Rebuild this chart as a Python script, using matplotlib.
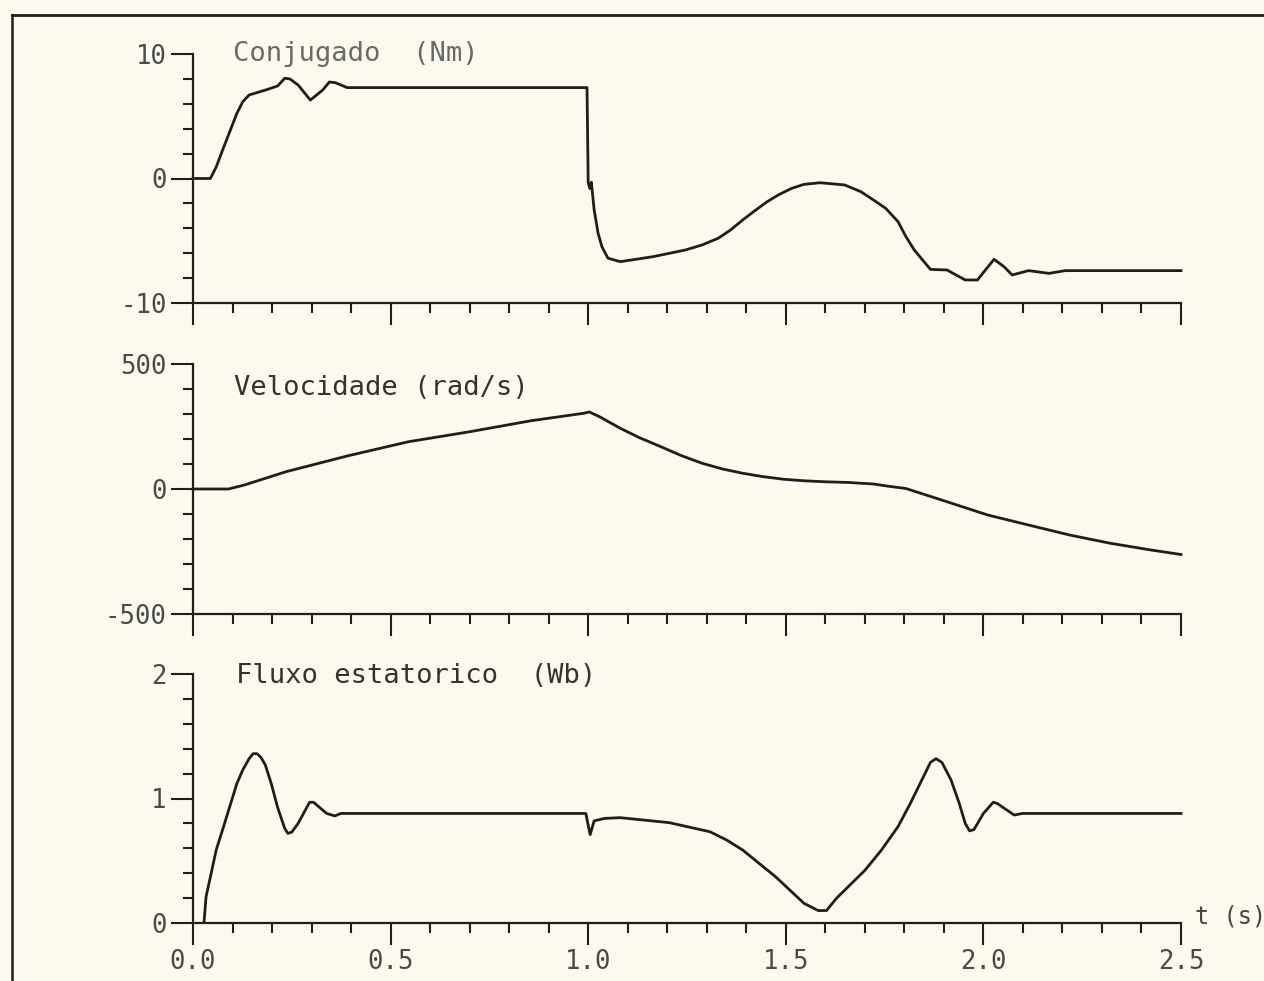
"""Partida e reversao do motor: conjugado, velocidade e fluxo estatorico
versus tempo, tres graficos empilhados no estilo de saida de plotter."""

import matplotlib

matplotlib.use("Agg")
import matplotlib.pyplot as plt  # noqa: E402
from matplotlib.lines import Line2D  # noqa: E402
from matplotlib.ticker import FormatStrFormatter, MultipleLocator  # noqa: E402

# conjugado (Nm)
t_torque = [0.0, 0.044, 0.059, 0.075, 0.111, 0.126, 0.142, 0.183, 0.214, 0.232,
            0.245, 0.266, 0.297, 0.328, 0.345, 0.36, 0.39, 0.997, 1.0, 1.004,
            1.008, 1.015, 1.025, 1.035, 1.05, 1.081, 1.164, 1.246, 1.288, 1.329,
            1.36, 1.391, 1.422, 1.453, 1.484, 1.515, 1.546, 1.587, 1.649, 1.69,
            1.722, 1.753, 1.784, 1.804, 1.825, 1.866, 1.908, 1.954, 1.985, 2.005,
            2.027, 2.052, 2.073, 2.114, 2.166, 2.207, 2.5]
torque = [0.0, 0.0, 0.95, 2.29, 5.23, 6.17, 6.71, 7.1, 7.43, 8.05,
          8.0, 7.51, 6.3, 7.1, 7.75, 7.7, 7.3, 7.3, -0.3, -0.8,
          -0.3, -2.5, -4.4, -5.5, -6.4, -6.68, -6.28, -5.74, -5.34, -4.8,
          -4.14, -3.33, -2.58, -1.86, -1.27, -0.79, -0.47, -0.34, -0.52, -1.06,
          -1.73, -2.4, -3.47, -4.67, -5.74, -7.3, -7.35, -8.15, -8.15, -7.35,
          -6.49, -7.08, -7.75, -7.4, -7.62, -7.4, -7.4]

# velocidade (rad/s)
t_speed = [0.0, 0.09, 0.13, 0.235, 0.39, 0.545, 0.70, 0.855, 0.989, 1.003,
           1.03, 1.081, 1.13, 1.184, 1.235, 1.288, 1.34, 1.391, 1.44, 1.494,
           1.545, 1.598, 1.66, 1.722, 1.76, 1.804, 1.908, 2.011, 2.114, 2.218,
           2.321, 2.424, 2.5]
speed = [0, 0, 16, 69, 132, 189, 229, 273, 303, 308,
         288, 243, 205, 169, 134, 103, 80, 63, 50, 39,
         33, 29, 26, 20, 11, 2, -51, -104, -144, -184,
         -217, -244, -262]

# fluxo estatorico (Wb)
t_flux = [0.028, 0.033, 0.044, 0.059, 0.075, 0.111, 0.126, 0.142, 0.152, 0.162,
          0.172, 0.183, 0.198, 0.214, 0.232, 0.24, 0.25, 0.266, 0.295, 0.305,
          0.338, 0.359, 0.374, 0.994, 1.005, 1.015, 1.041, 1.081, 1.205, 1.308,
          1.35, 1.391, 1.432, 1.474, 1.515, 1.546, 1.582, 1.603, 1.628, 1.701,
          1.742, 1.784, 1.815, 1.846, 1.866, 1.88, 1.895, 1.918, 1.939, 1.954,
          1.965, 1.976, 2.0, 2.025, 2.035, 2.078, 2.099, 2.5]
flux = [0.01, 0.21, 0.37, 0.59, 0.75, 1.12, 1.23, 1.32, 1.36, 1.36,
        1.33, 1.27, 1.12, 0.93, 0.76, 0.72, 0.73, 0.80, 0.97, 0.97,
        0.88, 0.86, 0.88, 0.88, 0.71, 0.82, 0.84, 0.846, 0.806, 0.733,
        0.667, 0.586, 0.48, 0.372, 0.25, 0.158, 0.10, 0.10, 0.198, 0.426,
        0.586, 0.774, 0.96, 1.16, 1.29, 1.32, 1.29, 1.15, 0.96, 0.80,
        0.74, 0.75, 0.88, 0.97, 0.96, 0.867, 0.88, 0.88]

PAPER = "#fcfaee"
INK = "#1e1e1e"
MONO = ["DejaVu Sans Mono"]

W, H = 1264, 981
LEFT, RIGHT = 193, 1181            # pixel x of t=0 and t=2.5
PANELS = [(54, 303), (364, 614), (674, 923)]  # pixel y of top/bottom limits


def style_axis(ax, ylim, ymajor, yminor, xlabels):
    ax.set_xlim(0, 2.5)
    ax.set_ylim(*ylim)
    ax.patch.set_visible(False)
    for side in ("top", "right"):
        ax.spines[side].set_visible(False)
    for side in ("left", "bottom"):
        ax.spines[side].set_linewidth(1.6)
        ax.spines[side].set_color(INK)
    ax.xaxis.set_major_locator(MultipleLocator(0.5))
    ax.xaxis.set_minor_locator(MultipleLocator(0.1))
    ax.yaxis.set_major_locator(MultipleLocator(ymajor))
    ax.yaxis.set_minor_locator(MultipleLocator(yminor))
    ax.tick_params(which="major", length=16, width=1.5, color=INK, pad=3,
                   labelsize=18.5, labelcolor="#4a4a4a")
    ax.tick_params(which="minor", length=7.5, width=1.5, color=INK)
    ax.tick_params(axis="x", labelbottom=xlabels)
    ax.xaxis.set_major_formatter(FormatStrFormatter("%.1f"))
    for lab in ax.get_xticklabels() + ax.get_yticklabels():
        lab.set_family(MONO)


def main() -> None:
    plt.rcParams["axes.unicode_minus"] = False
    fig = plt.figure(figsize=(W / 100, H / 100), dpi=100, facecolor=PAPER)

    axes = []
    for top, bottom in PANELS:
        rect = [LEFT / W, 1 - bottom / H, (RIGHT - LEFT) / W, (bottom - top) / H]
        axes.append(fig.add_axes(rect))
    ax_t, ax_w, ax_f = axes

    ax_t.plot(t_torque, torque, color=INK, lw=2.0, clip_on=False)
    style_axis(ax_t, (-10, 10), 10, 2, False)
    ax_t.text(0.10, 10, "Conjugado  (Nm)", family=MONO, fontsize=19.5,
              color="#6a6a6a", va="center")

    ax_w.plot(t_speed, speed, color=INK, lw=2.0, clip_on=False)
    style_axis(ax_w, (-500, 500), 500, 100, False)
    ax_w.text(0.105, 405, "Velocidade (rad/s)", family=MONO, fontsize=19.5,
              color="#333333", va="center")

    ax_f.plot(t_flux, flux, color=INK, lw=2.0, clip_on=False)
    style_axis(ax_f, (0, 2), 1, 0.2, True)
    ax_f.text(0.11, 1.98, "Fluxo estatorico  (Wb)", family=MONO, fontsize=19.5,
              color="#333333", va="center")
    ax_f.text(2.535, 0.05, "t (s)", family=MONO, fontsize=17,
              color="#444444", va="center")

    # moldura do papel (so topo e esquerda aparecem no scan)
    fig.add_artist(Line2D([12 / W, 1], [1 - 15 / H] * 2, color=INK, lw=2.0,
                          transform=fig.transFigure))
    fig.add_artist(Line2D([12 / W] * 2, [0, 1 - 15 / H], color=INK, lw=1.8,
                          transform=fig.transFigure))

    fig.savefig("out.png", facecolor=PAPER)


if __name__ == "__main__":
    main()
